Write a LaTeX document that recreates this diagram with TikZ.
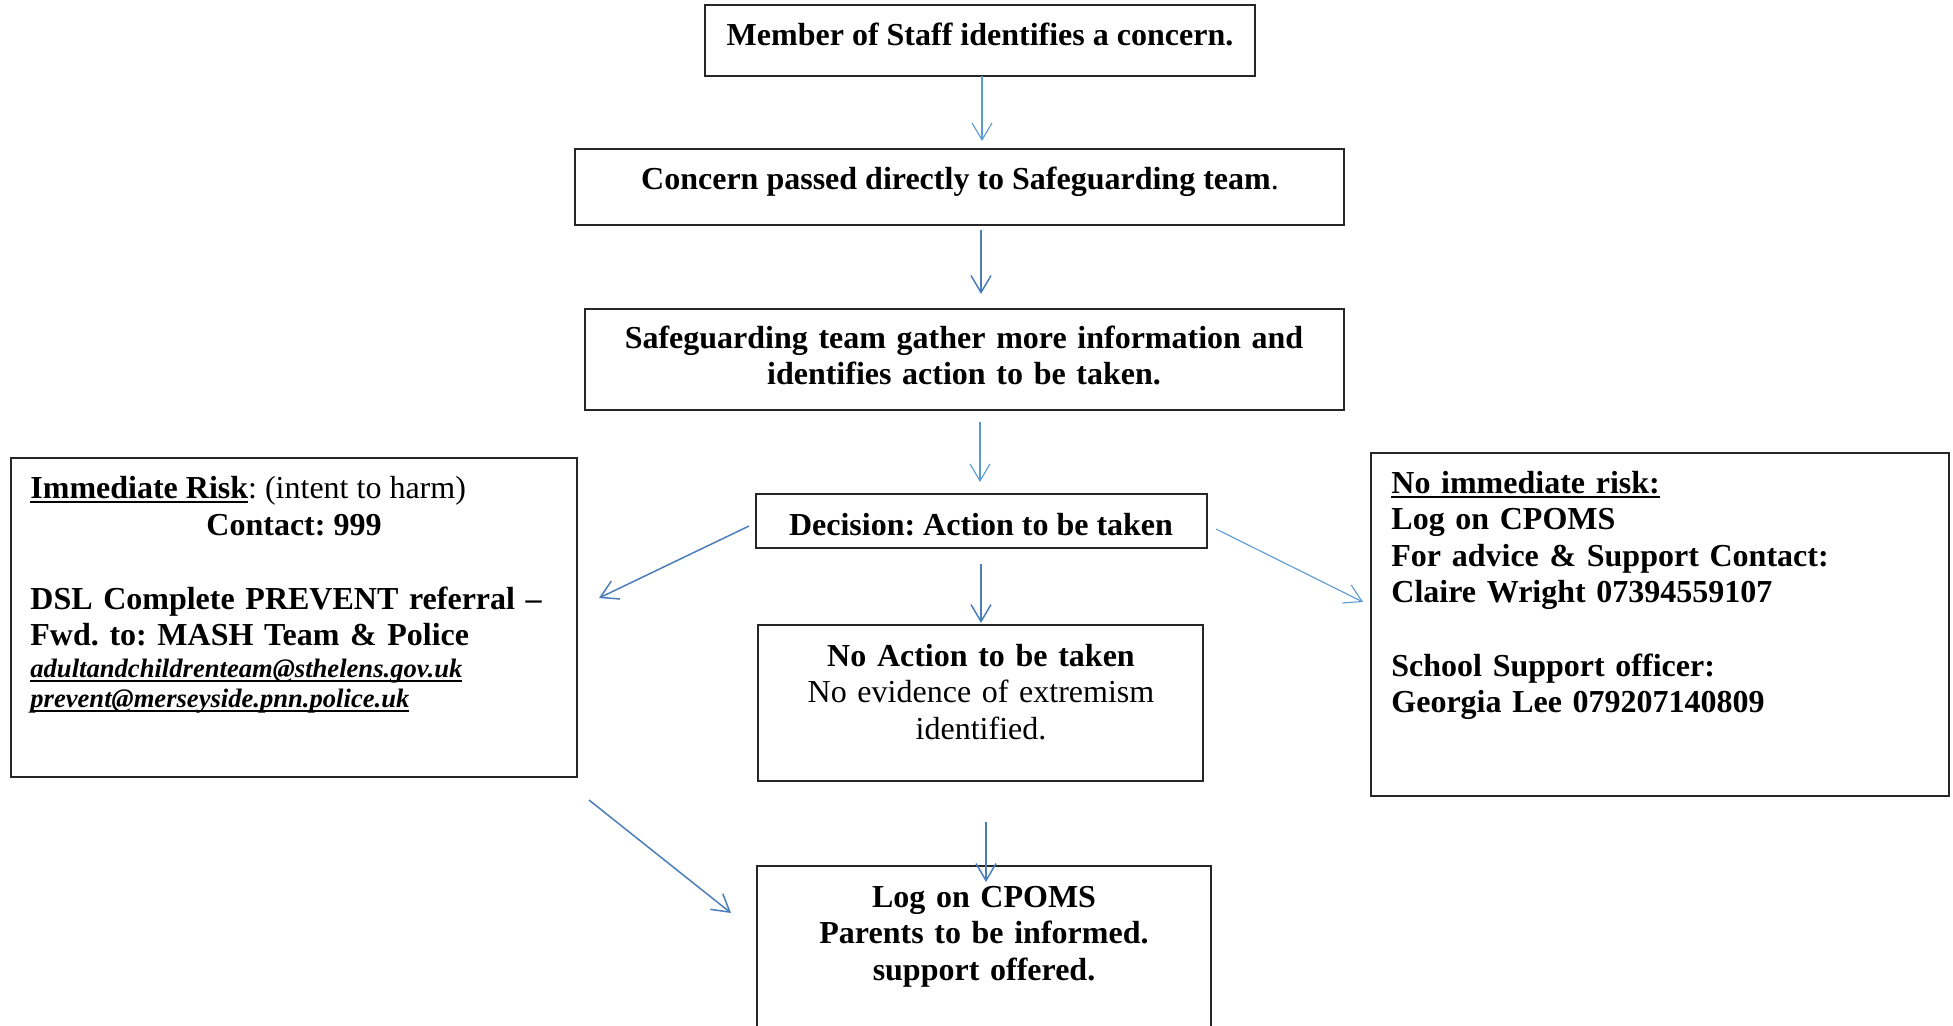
\documentclass[tikz,border=0pt]{standalone}
\usepackage{fontspec}
\setmainfont{Liberation Serif}
\usetikzlibrary{arrows.meta,fit}
\definecolor{arrA}{HTML}{4A7EBB}
\definecolor{arrB}{HTML}{5B9BD5}
\newcommand\thkul[2][-2.6pt]{\leavevmode\setbox0\hbox{#2}\rlap{\rule[#1]{\wd0}{1pt}}\box0}
\frenchspacing
\begin{document}
\frenchspacing
\begin{tikzpicture}[x=0.5pt,y=-0.5pt,
  box/.style={draw=black!85, line width=0.75pt, inner sep=0pt},
  txt/.style={inner sep=0pt, font=\fontsize{16}{18.3}\selectfont\frenchspacing},
  btxt/.style={inner sep=0pt, font=\fontsize{16}{18.3}\selectfont\bfseries\frenchspacing},
  mail/.style={inner sep=0pt, font=\fontsize{13.3}{15.2}\selectfont\bfseries\itshape},
  darr/.style={draw=arrA, line width=0.75pt, -{Straight Barb[length=8.5pt,width=10pt]}},
  larr/.style={draw=arrB, line width=0.55pt, -{Straight Barb[length=8.5pt,width=10pt]}}]
\clip (0,0) rectangle (1953,1025);
\fill[white] (0,0) rectangle (1953,1025);

% boxes
\node[box, fit={(705,5) (1255,76)}] (b1) {};
\node[box, fit={(575,149) (1344,225)}] (b2) {};
\node[box, fit={(585,309) (1344,410)}] (b3) {};
\node[box, fit={(756,494) (1207,548)}] (dec) {};
\node[box, fit={(758,625) (1203,781)}] (noact) {};
\node[box, fit={(757,866) (1211,1060)}] (logb) {};
\node[box, fit={(11,458) (577,777)}] (left) {};
\node[box, fit={(1371,453) (1949,796)}] (right) {};

% texts
\node[btxt, anchor=base] (t1) at (980,45) {Member of Staff identifies a concern.};
\node[txt, anchor=base] (t2) at (960,189) {\textbf{Concern passed directly to Safeguarding team}.};
\node[btxt, anchor=base, text width=370pt, align=center] (t3) at (964,348)
  {Safeguarding team gather more information and\\identifies action to be taken.};
\node[btxt, anchor=base] (t4) at (981,535) {Decision: Action to be taken};
\node[txt, anchor=base, text width=215pt, align=center] (t5) at (981,666)
  {\textbf{No Action to be taken}\\No evidence of extremism\\identified.};
\node[btxt, anchor=base, text width=215pt, align=center] (t6) at (984,907)
  {Log on CPOMS\\Parents to be informed.\\support offered.};

\node[txt, anchor=base west] (l1) at (30,498) {\thkul{\textbf{Immediate Risk}}: (intent to harm)};
\node[btxt, anchor=base] (l2) at (294,535) {Contact: 999};
\node[btxt, anchor=base west, text width=270pt, align=left] (l3) at (30,609)
  {DSL Complete PREVENT referral –\\Fwd. to: MASH Team \& Police};
\node[mail, anchor=base west, text width=270pt, align=left] (l4) at (30,677)
  {\thkul[-2.3pt]{adultandchildrenteam@sthelens.gov.uk}\\\thkul[-2.3pt]{prevent@merseyside.pnn.police.uk}};

\node[btxt, anchor=base west, text width=275pt, align=left] (r1) at (1391,493)
  {\thkul{No immediate risk:}\\Log on CPOMS\\For advice \& Support Contact:\\Claire Wright 07394559107\\[18.3pt]School Support officer:\\Georgia Lee 079207140809};

% arrow end points
\coordinate (a1s) at (982,76);   \coordinate (a1e) at (982,141);
\coordinate (a2s) at (981,230);  \coordinate (a2e) at (981,294);
\coordinate (a3s) at (980,422);  \coordinate (a3e) at (980,482);
\coordinate (a4s) at (749,526);  \coordinate (a4e) at (599,598);
\coordinate (a5s) at (1216,529); \coordinate (a5e) at (1363,602);
\coordinate (a6s) at (981,564);  \coordinate (a6e) at (981,623);
\coordinate (a7s) at (986,822);  \coordinate (a7e) at (986,882);
\coordinate (a8s) at (589,800);  \coordinate (a8e) at (731,913);

\draw[larr] (a1s) -- (a1e);
\draw[darr] (a2s) -- (a2e);
\draw[larr] (a3s) -- (a3e);
\draw[darr] (a4s) -- (a4e);
\draw[larr] (a5s) -- (a5e);
\draw[darr] (a6s) -- (a6e);
\draw[darr] (a7s) -- (a7e);
\draw[darr] (a8s) -- (a8e);
\end{tikzpicture}
\end{document}
